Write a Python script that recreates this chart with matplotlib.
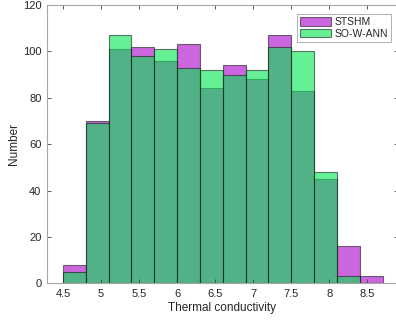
import matplotlib
matplotlib.use("Agg")
import matplotlib.pyplot as plt
import numpy as np

plt.rcParams['font.family'] = ['Liberation Sans', 'DejaVu Sans']

bin_edges = [4.5, 4.8, 5.1, 5.4, 5.7, 6.0, 6.3, 6.6, 6.9, 7.2, 7.5, 7.8, 8.1, 8.4, 8.7]
stshm_counts = [8, 70, 101, 102, 96, 103, 84, 94, 88, 107, 83, 45, 16, 3]
sowann_counts = [5, 69, 107, 98, 101, 93, 92, 90, 92, 102, 100, 48, 3, 0]
series_names = ['STSHM', 'SO-W-ANN']
x_ticks = [4.5, 5, 5.5, 6, 6.5, 7, 7.5, 8, 8.5]
y_ticks = [0, 20, 40, 60, 80, 100, 120]

W, H = 396, 325
fig = plt.figure(figsize=(W / 100, H / 100), dpi=100)
ax = fig.add_axes([47 / W, (H - 283.3) / H, (398 - 47) / W, (283.3 - 5) / H])

edges = np.array(bin_edges)
lefts = edges[:-1]
widths = np.diff(edges)

purple = (170 / 255, 0 / 255, 200 / 255)
green = (0 / 255, 230 / 255, 80 / 255)
alpha = 0.6

ax.bar(lefts, stshm_counts, width=widths, align='edge', color=purple, alpha=alpha,
       edgecolor=(0.1, 0.1, 0.1, 1.0), linewidth=0.8, label=series_names[0])
ax.bar(lefts, sowann_counts, width=widths, align='edge', color=green, alpha=alpha,
       edgecolor=(0.1, 0.1, 0.1, 1.0), linewidth=0.8, label=series_names[1])

x_left = 4.5 - (63 - 47) / 76.08
x_right = 4.5 + (398 - 63) / 76.08
ax.set_xlim(x_left, x_right)
ax.set_ylim(0, 120)
ax.set_xticks(x_ticks)
ax.set_xticklabels([('%g' % v) for v in x_ticks])
ax.set_yticks(y_ticks)

spine_col = '#a6a6a6'
for s in ax.spines.values():
    s.set_color(spine_col)
    s.set_linewidth(0.8)
ax.tick_params(direction='in', length=3, width=0.6, color='#404040',
               labelsize=8, labelcolor='#262626', top=True, right=True, pad=4)

ax.set_xlabel('Thermal conductivity', fontsize=8.5, color='#262626', labelpad=2)
ax.set_ylabel('Number', fontsize=8.5, color='#262626', labelpad=2)

leg = ax.legend(loc='upper left', bbox_to_anchor=((297 - 47) / (398 - 47), 1 - (14 - 5) / (283.3 - 5)),
                fontsize=7.5, frameon=True, fancybox=False, borderpad=0.3,
                handlelength=3.0, handleheight=0.9, handletextpad=0.3, labelspacing=0.15,
                borderaxespad=0)
leg.get_frame().set_edgecolor('#8c8c8c')
leg.get_frame().set_linewidth(0.6)
for t in leg.get_texts():
    t.set_color('#262626')

fig.savefig('out.png', dpi=100)
